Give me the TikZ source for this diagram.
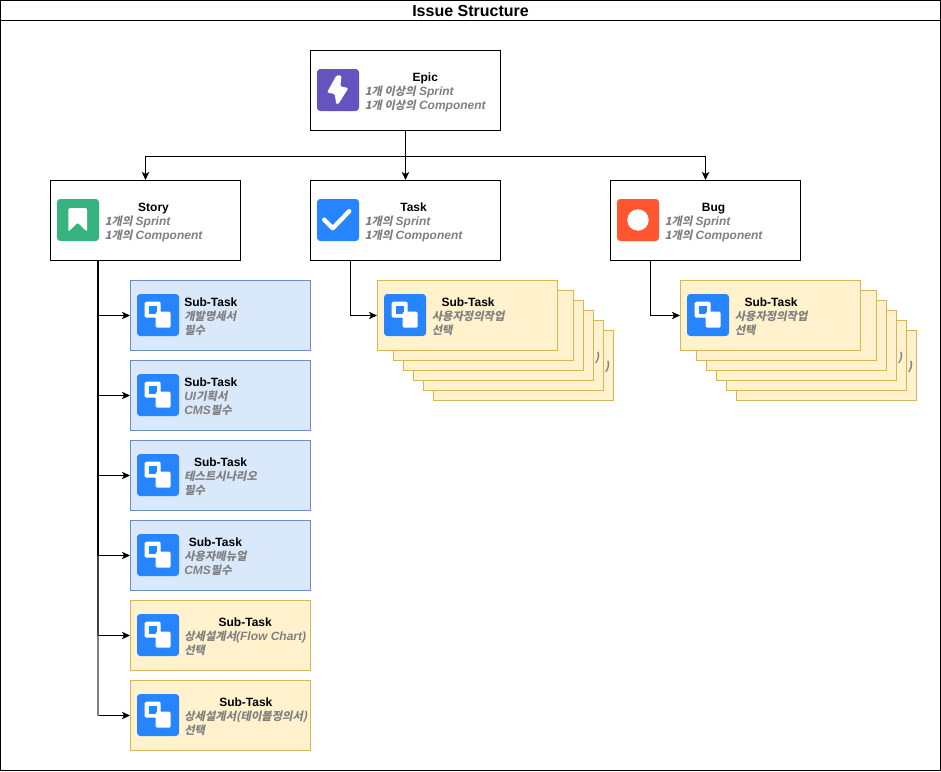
\documentclass[tikz,border=0pt]{standalone}
\usepackage{fontspec}
\setmainfont{Liberation Sans}
\newfontfamily\krfont[FakeSlant=0.2,Scale=0.94]{Noto Sans CJK KR}
\usetikzlibrary{positioning,calc,arrows.meta}

\definecolor{subblue}{HTML}{DAE8FC}
\definecolor{subblueline}{HTML}{6C8EBF}
\definecolor{subyellow}{HTML}{FFF2CC}
\definecolor{subyellowline}{HTML}{D6B656}
\definecolor{epicicon}{HTML}{6554C0}
\definecolor{storyicon}{HTML}{36B37E}
\definecolor{taskicon}{HTML}{2684FF}
\definecolor{bugicon}{HTML}{FF5630}
\definecolor{notegray}{HTML}{808080}

\newcommand{\kr}[1]{{\krfont\bfseries #1}}
\newcommand{\cardtext}[3]{\begin{tabular}{@{}l@{}}\multicolumn{1}{@{}c@{}}{\textbf{#1}}\\ \color{notegray}\bfseries\itshape #2\\ \color{notegray}\bfseries\itshape #3\end{tabular}}

\tikzset{
    px/.style={x=0.75pt,y=-0.75pt},
    issuebox/.style={draw=black,fill=white,line width=0.75pt,minimum width=142.5pt,minimum height=60pt,inner sep=0pt},
    subbox/.style={draw=subblueline,fill=subblue,line width=0.75pt,minimum width=135pt,minimum height=52.5pt,inner sep=0pt},
    optbox/.style={subbox,draw=subyellowline,fill=subyellow},
    iconbox/.style={minimum size=31.5pt,inner sep=0pt,rounded corners=2.5pt},
    cardlabel/.style={font=\fontsize{9}{10.5}\selectfont,inner sep=0pt,anchor=west},
    conn/.style={-{Stealth[length=6pt,width=5.5pt,inset=1.5pt]},line width=0.75pt},
    trunk/.style={line width=1.5pt},
    glyph/.style={fill=white,rounded corners=1pt}
}

\begin{document}
\begin{tikzpicture}[px]
    \useasboundingbox (0,0) rectangle (941,771);
    % frame
    \node[draw=black,fill=white,line width=0.75pt,minimum width=705pt,minimum height=577.5pt,inner sep=0pt] (frame) at (470.5,385.5) {};
    \node[draw=black,line width=0.75pt,minimum width=705pt,minimum height=15pt,inner sep=0pt,font=\fontsize{12}{14}\selectfont\bfseries] (frametitle) at (470.5,10.5) {Issue Structure};

    % main issues
    \node[issuebox] (epic) at (405.5,90.5) {};
    \node[issuebox] (story) at (145.5,220.5) {};
    \node[issuebox] (task) at (405.5,220.5) {};
    \node[issuebox] (bug) at (705.5,220.5) {};

    \node[iconbox,fill=epicicon] (epicpic) at (338,90) {};
    \node[iconbox,fill=storyicon] (storypic) at (78,220) {};
    \node[iconbox,fill=taskicon] (taskpic) at (338,220) {};
    \node[iconbox,fill=bugicon] (bugpic) at (638,220) {};

    \begin{scope}[shift={(epicpic.north west)},px]
        \fill[glyph] (19.7,6.7) -- (10.3,23.7) -- (18,25.3) -- (19.5,35.5) -- (21.5,35.5) -- (31.7,19.3) -- (23.7,17.7) -- (24.7,6.7) -- cycle;
    \end{scope}
    \begin{scope}[shift={(storypic.north west)},px]
        \fill[glyph] (11.7,9.3) -- (30.3,9.3) -- (30.3,33) -- (21,24) -- (11.7,33) -- cycle;
    \end{scope}
    \begin{scope}[shift={(taskpic.north west)},px]
        \draw[white,line width=3.3pt,line cap=round,line join=round] (7.5,21) -- (16,29.5) -- (32.5,12.5);
    \end{scope}
    \fill[white] (bugpic) circle (10.7);

    \node[cardlabel] (epictext) at (364.5,92.5) {\cardtext{Epic}{\kr{1개 이상의} Sprint}{\kr{1개 이상의} Component}};
    \node[cardlabel] (storytext) at (104.5,222.5) {\cardtext{Story}{\kr{1개의} Sprint}{\kr{1개의} Component}};
    \node[cardlabel] (tasktext) at (364.5,222.5) {\cardtext{Task}{\kr{1개의} Sprint}{\kr{1개의} Component}};
    \node[cardlabel] (bugtext) at (664.5,222.5) {\cardtext{Bug}{\kr{1개의} Sprint}{\kr{1개의} Component}};

    % story sub-tasks
    \foreach \i/\ypos/\kind/\first/\second in {
        1/315/subbox/\kr{개발명세서}/\kr{필수},
        2/395/subbox/UI\kr{기획서}/CMS\kr{필수},
        3/475/subbox/\kr{테스트시나리오}/\kr{필수},
        4/555/subbox/\kr{사용자메뉴얼}/CMS\kr{필수},
        5/635/optbox/\kr{상세설계서}(Flow Chart)/\kr{선택},
        6/715/optbox/\kr{상세설계서(테이블정의서)}/\kr{선택}} {
        \node[\kind] (sub\i) at (220.5,\ypos+0.5) {};
        \node[iconbox,fill=taskicon] (sub\i pic) at (158,\ypos) {};
        \begin{scope}[shift={(sub\i pic.north west)},px]
            \fill[glyph] (8,8) rectangle (24,24);
            \fill[taskicon] (12,12) rectangle (20,20);
            \fill[glyph] (19,18) rectangle (34,34);
        \end{scope}
        \node[cardlabel] (sub\i text) at (184,\ypos+2.5) {\cardtext{Sub-Task}{\first}{\second}};
    }

    % task and bug stacks
    \foreach \stack/\xoff in {taskstack/0,bugstack/303} {
        \foreach \d in {5,4,3,2,1} {
            \node[optbox] (\stack\d) at (\xoff+473.5+\d*10,315.5+\d*10) {};
        }
        \node[cardlabel,text=notegray] (\stack paren4) at (\xoff+594.5,358) {\kr{)}};
        \node[cardlabel,text=notegray] (\stack paren5) at (\xoff+604.5,367) {\kr{)}};
        \node[optbox] (\stack top) at (\xoff+467.5,315.5) {};
        \node[iconbox,fill=taskicon] (\stack pic) at (\xoff+405,315) {};
        \begin{scope}[shift={(\stack pic.north west)},px]
            \fill[glyph] (8,8) rectangle (24,24);
            \fill[taskicon] (12,12) rectangle (20,20);
            \fill[glyph] (19,18) rectangle (34,34);
        \end{scope}
    }
    \node[cardlabel] (tasksubtext) at (431.5,317.5) {\cardtext{Sub-Task}{\kr{사용자정의작업}}{\kr{선택}}};
    \node[cardlabel] (bugsubtext) at (734.5,317.5) {\cardtext{Sub-Task}{\kr{사용자정의작업}}{\kr{선택}}};

    % connectors
    \draw[conn] (epic.south) -- ++(0,25) -| (story.north);
    \draw[conn] (epic.south) -- (task.north);
    \draw[conn] (epic.south) -- ++(0,25) -| (bug.north);

    \coordinate (storyout) at ($(story.south west)!0.25!(story.south east)$);
    \coordinate (taskout) at ($(task.south west)!0.21!(task.south east)$);
    \coordinate (bugout) at ($(bug.south west)!0.21!(bug.south east)$);
    \foreach \i in {1,...,6} {
        \draw[conn] (storyout) |- (sub\i.west);
    }
    \draw[trunk] (storyout) -- (storyout |- sub4.west);
    \draw[trunk,black!75] (storyout |- sub4.west) -- (storyout |- sub5.west);
    \draw[trunk,black!50] (storyout |- sub5.west) -- (storyout |- sub6.west);
    \draw[conn] (taskout) |- (taskstacktop.west);
    \draw[conn] (bugout) |- (bugstacktop.west);
\end{tikzpicture}
\end{document}
